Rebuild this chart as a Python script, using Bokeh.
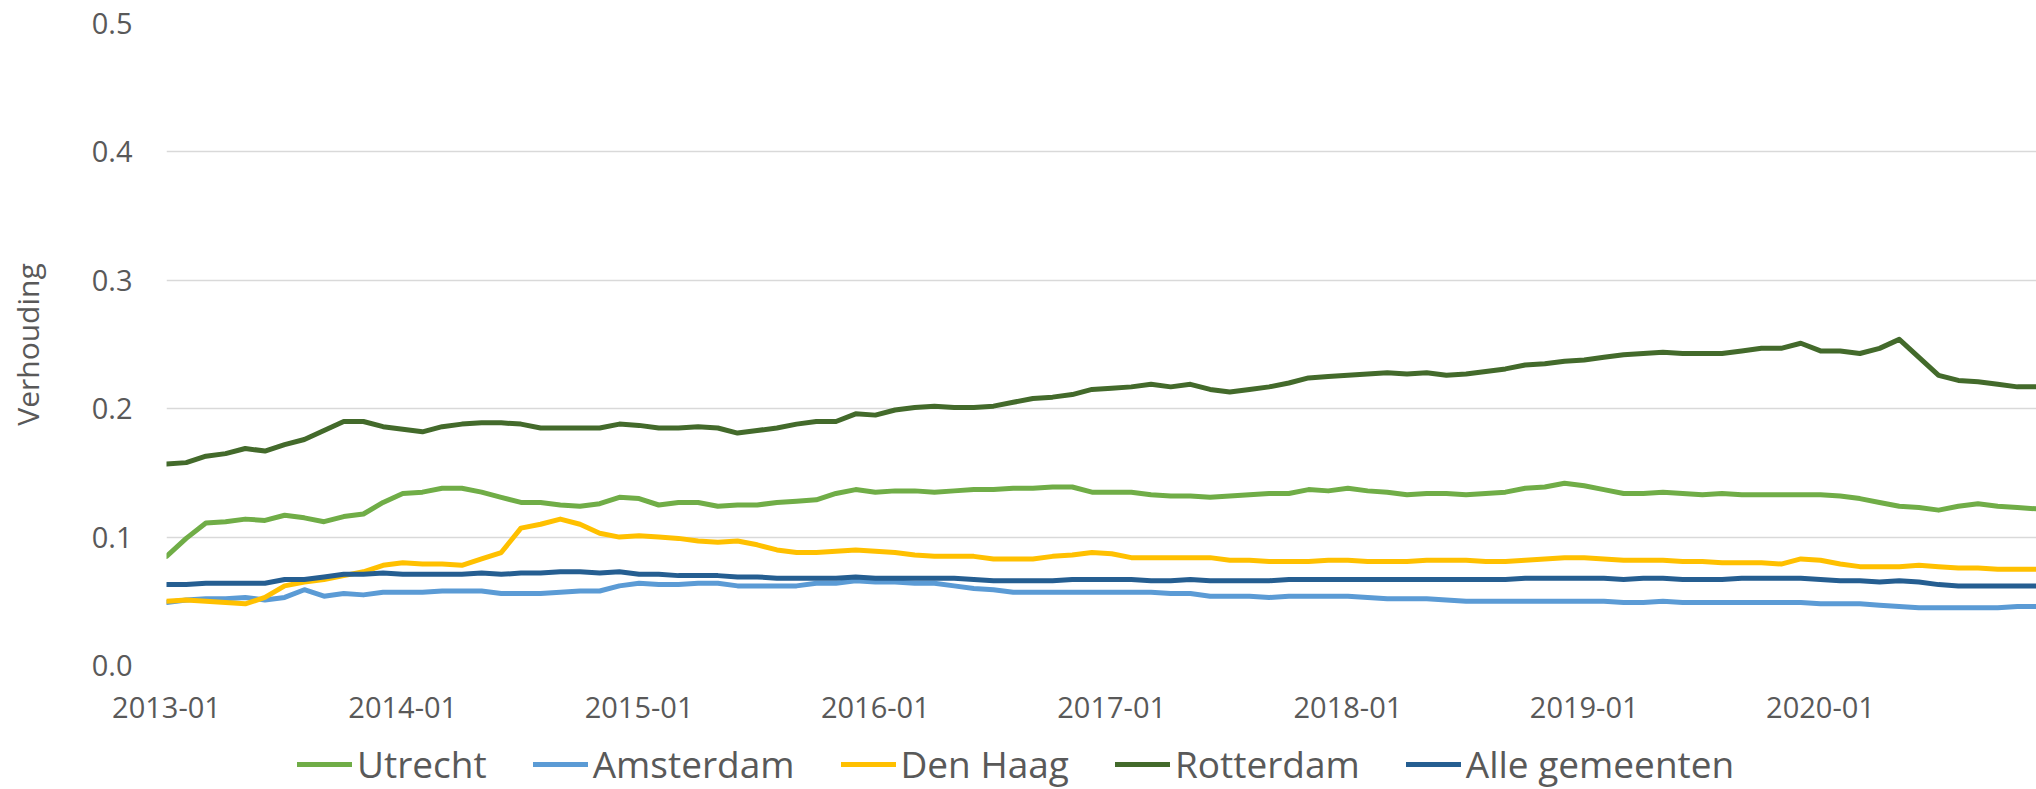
from bokeh.plotting import figure
from bokeh.layouts import column
from bokeh.models import Range1d, FixedTicker, NumeralTickFormatter, Legend, LegendItem
from bokeh.embed import file_html
from bokeh.resources import INLINE

# ---- data (monthly, 2013-01 .. 2020-12) ----
months = list(range(96))
tick_positions = [0, 12, 24, 36, 48, 60, 72, 84]
tick_labels = ["2013-01", "2014-01", "2015-01", "2016-01", "2017-01", "2018-01", "2019-01", "2020-01"]

utrecht = [0.085,0.099,0.111,0.112,0.114,0.113,0.117,0.115,0.112,0.116,0.118,0.127,0.134,0.135,0.138,0.138,0.135,0.131,0.127,0.127,0.125,0.124,0.126,0.131,0.130,
           0.125,0.127,0.127,0.124,0.125,0.125,0.127,0.128,0.129,0.134,0.137,0.135,0.136,0.136,0.135,0.136,0.137,0.137,0.138,0.138,0.139,0.139,0.135,
           0.135,0.135,0.133,0.132,0.132,0.131,0.132,0.133,0.134,0.134,0.137,0.136,0.138,0.136,0.135,0.133,0.134,0.134,0.133,0.134,0.135,0.138,0.139,
           0.142,0.140,0.137,0.134,0.134,0.135,0.134,0.133,0.134,0.133,0.133,0.133,0.133,0.133,0.132,0.130,0.127,0.124,0.123,0.121,0.124,0.126,0.124,0.123,0.122]
amsterdam = [0.049,0.051,0.052,0.052,0.053,0.051,0.053,0.059,0.054,0.056,0.055,0.057,0.057,0.057,0.058,0.058,0.058,0.056,0.056,0.056,0.057,0.058,0.058,0.062,0.064,
             0.063,0.063,0.064,0.064,0.062,0.062,0.062,0.062,0.064,0.064,0.066,0.065,0.065,0.064,0.064,0.062,0.060,0.059,0.057,0.057,0.057,0.057,0.057,
             0.057,0.057,0.057,0.056,0.056,0.054,0.054,0.054,0.053,0.054,0.054,0.054,0.054,0.053,0.052,0.052,0.052,0.051,0.050,0.050,0.050,0.050,0.050,
             0.050,0.050,0.050,0.049,0.049,0.050,0.049,0.049,0.049,0.049,0.049,0.049,0.049,0.048,0.048,0.048,0.047,0.046,0.045,0.045,0.045,0.045,0.045,0.046,0.046]
den_haag = [0.050,0.051,0.050,0.049,0.048,0.053,0.062,0.065,0.067,0.070,0.073,0.078,0.080,0.079,0.079,0.078,0.083,0.088,0.107,0.110,0.114,0.110,0.103,0.100,0.101,
            0.100,0.099,0.097,0.096,0.097,0.094,0.090,0.088,0.088,0.089,0.090,0.089,0.088,0.086,0.085,0.085,0.085,0.083,0.083,0.083,0.085,0.086,0.088,
            0.087,0.084,0.084,0.084,0.084,0.084,0.082,0.082,0.081,0.081,0.081,0.082,0.082,0.081,0.081,0.081,0.082,0.082,0.082,0.081,0.081,0.082,0.083,
            0.084,0.084,0.083,0.082,0.082,0.082,0.081,0.081,0.080,0.080,0.080,0.079,0.083,0.082,0.079,0.077,0.077,0.077,0.078,0.077,0.076,0.076,0.075,0.075,0.075]
rotterdam = [0.157,0.158,0.163,0.165,0.169,0.167,0.172,0.176,0.183,0.190,0.190,0.186,0.184,0.182,0.186,0.188,0.189,0.189,0.188,0.185,0.185,0.185,0.185,0.188,0.187,
             0.185,0.185,0.186,0.185,0.181,0.183,0.185,0.188,0.190,0.190,0.196,0.195,0.199,0.201,0.202,0.201,0.201,0.202,0.205,0.208,0.209,0.211,0.215,
             0.216,0.217,0.219,0.217,0.219,0.215,0.213,0.215,0.217,0.220,0.224,0.225,0.226,0.227,0.228,0.227,0.228,0.226,0.227,0.229,0.231,0.234,0.235,
             0.237,0.238,0.240,0.242,0.243,0.244,0.243,0.243,0.243,0.245,0.247,0.247,0.251,0.245,0.245,0.243,0.247,0.254,0.240,0.226,0.222,0.221,0.219,0.217,0.217]
alle_gemeenten = [0.063,0.063,0.064,0.064,0.064,0.064,0.067,0.067,0.069,0.071,0.071,0.072,0.071,0.071,0.071,0.071,0.072,0.071,0.072,0.072,0.073,0.073,0.072,0.073,0.071,
                  0.071,0.070,0.070,0.070,0.069,0.069,0.068,0.068,0.068,0.068,0.069,0.068,0.068,0.068,0.068,0.068,0.067,0.066,0.066,0.066,0.066,0.067,0.067,
                  0.067,0.067,0.066,0.066,0.067,0.066,0.066,0.066,0.066,0.067,0.067,0.067,0.067,0.067,0.067,0.067,0.067,0.067,0.067,0.067,0.067,0.068,0.068,
                  0.068,0.068,0.068,0.067,0.068,0.068,0.067,0.067,0.067,0.068,0.068,0.068,0.068,0.067,0.066,0.066,0.065,0.066,0.065,0.063,0.062,0.062,0.062,0.062,0.062]

series_names = ["Utrecht", "Amsterdam", "Den Haag", "Rotterdam", "Alle gemeenten"]
series_values = [utrecht, amsterdam, den_haag, rotterdam, alle_gemeenten]
series_colors = ["#70AD47", "#5B9BD5", "#FFC000", "#436A2B", "#255E91"]

FONT = "Open Sans"
TEXT = "#595959"

# ---------------- main chart ----------------
p = figure(width=2036, height=739, output_backend="svg", toolbar_location=None,
           x_range=Range1d(0, 94.97), y_range=Range1d(0, 0.5),
           min_border_left=166, min_border_right=0, min_border_top=23, min_border_bottom=74)
p.outline_line_color = None

for name, vals, col in zip(series_names, series_values, series_colors):
    p.line(months, vals, line_color=col, line_width=5, line_join="round", line_cap="round")

p.xaxis.ticker = FixedTicker(ticks=tick_positions)
p.xaxis.major_label_overrides = {t: l for t, l in zip(tick_positions, tick_labels)}
p.xaxis.axis_line_color = None
p.xaxis.major_tick_line_color = None
p.xaxis.minor_tick_line_color = None
p.xaxis.major_tick_out = 0
p.xaxis.major_label_standoff = 31
p.xaxis.major_label_text_font = FONT
p.xaxis.major_label_text_font_size = "29px"
p.xaxis.major_label_text_color = TEXT

p.yaxis.ticker = FixedTicker(ticks=[0, 0.1, 0.2, 0.3, 0.4, 0.5])
p.yaxis.formatter = NumeralTickFormatter(format="0.0")
p.yaxis.axis_line_color = None
p.yaxis.major_tick_line_color = None
p.yaxis.minor_tick_line_color = None
p.yaxis.major_tick_out = 0
p.yaxis.major_label_standoff = 34
p.yaxis.major_label_text_font = FONT
p.yaxis.major_label_text_font_size = "29px"
p.yaxis.major_label_text_color = TEXT
p.yaxis.axis_label = "Verhouding"
p.yaxis.axis_label_text_font = FONT
p.yaxis.axis_label_text_font_size = "30px"
p.yaxis.axis_label_text_font_style = "normal"
p.yaxis.axis_label_text_color = TEXT
p.yaxis.axis_label_standoff = 41

p.xgrid.grid_line_color = None
p.ygrid.grid_line_color = "#D9D9D9"
p.ygrid.grid_line_width = 1.5

# ---------------- legend strip ----------------
lg = figure(width=2036, height=50, output_backend="svg", toolbar_location=None,
            x_range=Range1d(0, 94.97), y_range=Range1d(10, 11),
            x_axis_type=None, y_axis_type=None,
            min_border_left=166, min_border_right=0, min_border_top=0, min_border_bottom=0)
lg.outline_line_color = None
lg.xgrid.grid_line_color = None
lg.ygrid.grid_line_color = None

items = []
for name, vals, col in zip(series_names, series_values, series_colors):
    r = lg.line(months, vals, line_color=col, line_width=5, line_cap="round")
    items.append(LegendItem(label=name, renderers=[r]))

legend = Legend(items=items, orientation="horizontal", location=(131, 0),
                glyph_width=55, glyph_height=20, label_standoff=5, spacing=46,
                padding=0, margin=0, border_line_color=None, background_fill_alpha=0,
                label_text_font=FONT, label_text_font_size="37px", label_text_color=TEXT)
lg.add_layout(legend, "center")

layout = column(p, lg, spacing=0)
open("out.html", "w").write(file_html(layout, INLINE))
